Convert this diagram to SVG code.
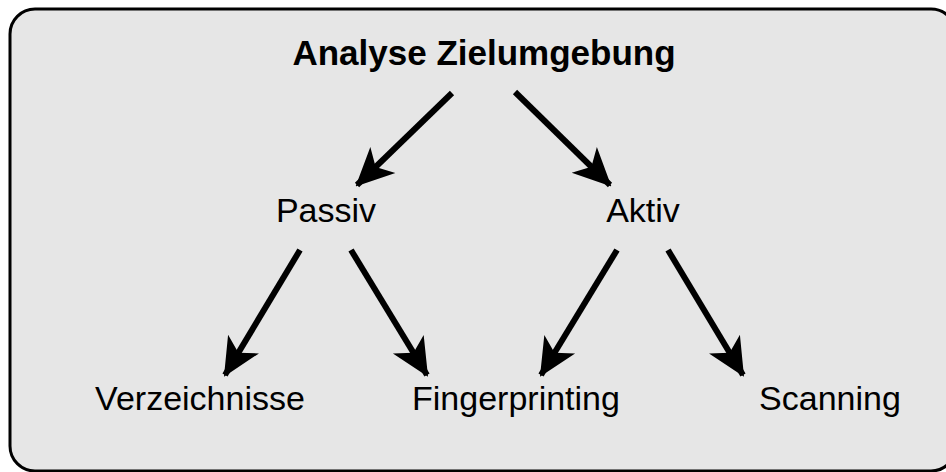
<svg xmlns="http://www.w3.org/2000/svg" width="946" height="472" viewBox="0 0 946 472">
<style>
text{font-family:"Liberation Sans",Arial,sans-serif;font-size:34px;fill:#000;text-anchor:middle}
.title{font-weight:bold;font-size:35px}
.conn line{stroke:#000;stroke-width:6;marker-end:url(#ah)}
</style>
<defs>
<marker id="ah" markerUnits="userSpaceOnUse" viewBox="0 -20 38 40" refX="36" refY="0" markerWidth="38" markerHeight="40" orient="auto">
<path d="M38,0 L0,-18 L10,0 L0,18 Z" fill="#000"/>
</marker>
</defs>
<rect x="0" y="0" width="946" height="472" fill="#fff"/>
<rect id="frame" x="10" y="9" width="946" height="462" rx="25" ry="25" fill="#e6e6e6" stroke="#000" stroke-width="3"/>
<g class="conn">
<line x1="452" y1="93" x2="357" y2="185"/>
<line x1="515" y1="92" x2="610" y2="185"/>
<line x1="300" y1="250" x2="225" y2="375"/>
<line x1="351" y1="250" x2="427" y2="375"/>
<line x1="617" y1="250" x2="541" y2="375"/>
<line x1="668" y1="250" x2="743" y2="375"/>
</g>
<g id="root"><text class="title" x="484" y="65">Analyse Zielumgebung</text></g>
<g id="passiv"><text x="326" y="222">Passiv</text></g>
<g id="aktiv"><text x="643" y="222">Aktiv</text></g>
<g id="verzeichnisse"><text x="200" y="410">Verzeichnisse</text></g>
<g id="fingerprinting"><text x="516" y="410">Fingerprinting</text></g>
<g id="scanning"><text x="830" y="410">Scanning</text></g>
</svg>
